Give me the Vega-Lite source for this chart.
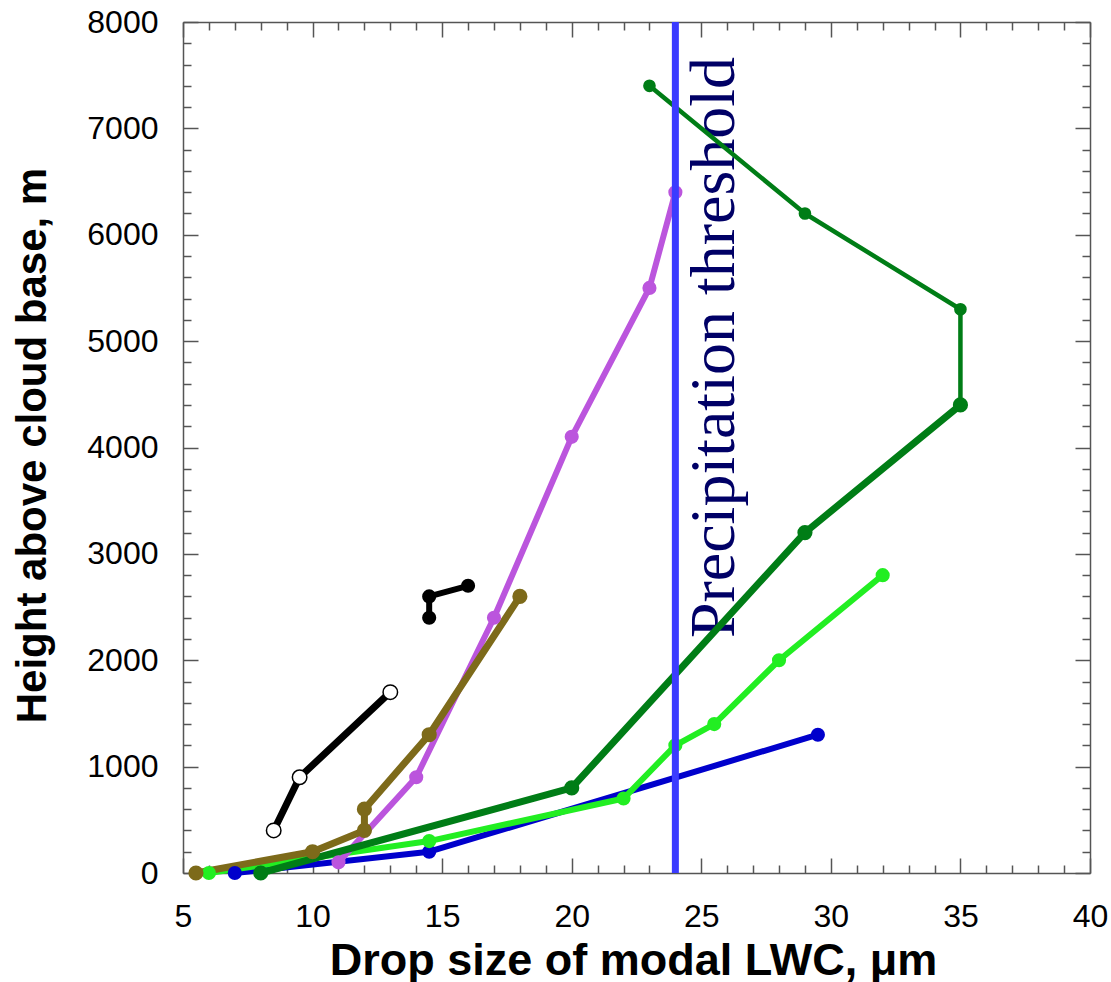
{
  "$schema": "https://vega.github.io/schema/vega-lite/v6.json",
  "width": 907,
  "height": 851,
  "autosize": {"type": "none"},
  "padding": {"left": 183, "top": 22, "right": 21, "bottom": 109},
  "background": "white",
  "config": {
    "view": {"stroke": null},
    "axis": {
      "grid": false,
      "domainColor": "#555555",
      "domainWidth": 1.5,
      "tickColor": "#555555",
      "tickWidth": 1.5,
      "labelFont": "Liberation Sans",
      "labelFontSize": 31,
      "labelColor": "black",
      "labelFlush": false,
      "labelOverlap": false,
      "labelBound": false,
      "titleFont": "Liberation Sans",
      "titleFontWeight": "bold",
      "titleFontSize": 42,
      "titleColor": "black"
    },
    "line": {"strokeCap": "round", "strokeJoin": "round"},
    "circle": {"opacity": 1}
  },
  "datasets": {
    "profiles": [
      {"series": "blue", "k": 0, "size_um": 7, "height_m": 0},
      {"series": "blue", "k": 1, "size_um": 14.5, "height_m": 200},
      {"series": "blue", "k": 2, "size_um": 29.5, "height_m": 1300},
      {"series": "lime", "k": 0, "size_um": 6, "height_m": 0},
      {"series": "lime", "k": 1, "size_um": 14.5, "height_m": 300},
      {"series": "lime", "k": 2, "size_um": 22, "height_m": 700},
      {"series": "lime", "k": 3, "size_um": 24, "height_m": 1200},
      {"series": "lime", "k": 4, "size_um": 25.5, "height_m": 1400},
      {"series": "lime", "k": 5, "size_um": 28, "height_m": 2000},
      {"series": "lime", "k": 6, "size_um": 32, "height_m": 2800},
      {"series": "green_lo", "k": 0, "size_um": 8, "height_m": 0},
      {"series": "green_lo", "k": 1, "size_um": 20, "height_m": 800},
      {"series": "green_lo", "k": 2, "size_um": 29, "height_m": 3200},
      {"series": "green_lo", "k": 3, "size_um": 35, "height_m": 4400},
      {"series": "green_hi", "k": 0, "size_um": 35, "height_m": 4400},
      {"series": "green_hi", "k": 1, "size_um": 35, "height_m": 5300},
      {"series": "green_hi", "k": 2, "size_um": 29, "height_m": 6200},
      {"series": "green_hi", "k": 3, "size_um": 23, "height_m": 7400},
      {"series": "purple", "k": 0, "size_um": 11, "height_m": 100},
      {"series": "purple", "k": 1, "size_um": 14, "height_m": 900},
      {"series": "purple", "k": 2, "size_um": 17, "height_m": 2400},
      {"series": "purple", "k": 3, "size_um": 20, "height_m": 4100},
      {"series": "purple", "k": 4, "size_um": 23, "height_m": 5500},
      {"series": "purple", "k": 5, "size_um": 24, "height_m": 6400},
      {"series": "brown", "k": 0, "size_um": 5.5, "height_m": 0},
      {"series": "brown", "k": 1, "size_um": 10, "height_m": 200},
      {"series": "brown", "k": 2, "size_um": 12, "height_m": 400},
      {"series": "brown", "k": 3, "size_um": 12, "height_m": 600},
      {"series": "brown", "k": 4, "size_um": 14.5, "height_m": 1300},
      {"series": "brown", "k": 5, "size_um": 18, "height_m": 2600},
      {"series": "black_open", "k": 0, "size_um": 8.5, "height_m": 400},
      {"series": "black_open", "k": 1, "size_um": 9.5, "height_m": 900},
      {"series": "black_open", "k": 2, "size_um": 13, "height_m": 1700},
      {"series": "black_filled", "k": 0, "size_um": 14.5, "height_m": 2400},
      {"series": "black_filled", "k": 1, "size_um": 14.5, "height_m": 2600},
      {"series": "black_filled", "k": 2, "size_um": 16, "height_m": 2700}
    ],
    "threshold": [{"size_um": 24}],
    "note": [{"size_um": 26.27, "height_m": 4940, "label": "Precipitation threshold"}]
  },
  "resolve": {"axis": {"x": "independent", "y": "independent"}},
  "layer": [
    {
      "data": {"name": "note"},
      "mark": {"type": "text", "font": "Liberation Serif", "fontSize": 64, "angle": 270, "align": "center", "baseline": "alphabetic", "color": "#000066"},
      "encoding": {
        "x": {"field": "size_um", "type": "quantitative", "scale": {"domain": [5, 40], "nice": false, "zero": false},
          "axis": {"orient": "top", "title": null, "labels": false,
            "values": [5,6,7,8,9,10,11,12,13,14,15,16,17,18,19,20,21,22,23,24,25,26,27,28,29,30,31,32,33,34,35,36,37,38,39,40],
            "tickSize": {"condition": {"test": "datum.value % 5 === 0", "value": -15}, "value": -8}}},
        "y": {"field": "height_m", "type": "quantitative", "scale": {"domain": [0, 8000], "nice": false, "zero": false},
          "axis": {"orient": "right", "title": null, "labels": false,
            "values": [0,200,400,600,800,1000,1200,1400,1600,1800,2000,2200,2400,2600,2800,3000,3200,3400,3600,3800,4000,4200,4400,4600,4800,5000,5200,5400,5600,5800,6000,6200,6400,6600,6800,7000,7200,7400,7600,7800,8000],
            "tickSize": {"condition": {"test": "datum.value % 1000 === 0", "value": -15}, "value": -8}}},
        "text": {"field": "label"}
      }
    },
    {
      "data": {"name": "profiles"},
      "transform": [{"filter": {"field": "series", "oneOf": ["blue", "lime", "purple", "black_filled"]}}],
      "mark": {"type": "line", "strokeWidth": 6},
      "encoding": {
        "x": {"field": "size_um", "type": "quantitative", "scale": {"domain": [5, 40], "nice": false, "zero": false},
          "axis": {"orient": "bottom", "title": "Drop size of modal LWC, μm",
            "values": [5,6,7,8,9,10,11,12,13,14,15,16,17,18,19,20,21,22,23,24,25,26,27,28,29,30,31,32,33,34,35,36,37,38,39,40],
            "labelExpr": "datum.value % 5 === 0 ? datum.label : ''",
            "labelPadding": 43,
            "labelFontSize": 32,
            "tickSize": {"condition": {"test": "datum.value % 5 === 0", "value": -15}, "value": -8},
            "titleFontSize": 45,
            "titleX": 450, "titleY": 101, "titleBaseline": "alphabetic", "titleAlign": "center"}},
        "y": {"field": "height_m", "type": "quantitative", "scale": {"domain": [0, 8000], "nice": false, "zero": false},
          "axis": {"orient": "left", "title": "Height above cloud base, m", "format": "d",
            "values": [0,200,400,600,800,1000,1200,1400,1600,1800,2000,2200,2400,2600,2800,3000,3200,3400,3600,3800,4000,4200,4400,4600,4800,5000,5200,5400,5600,5800,6000,6200,6400,6600,6800,7000,7200,7400,7600,7800,8000],
            "labelExpr": "datum.value % 1000 === 0 ? datum.label : ''",
            "labelPadding": 40,
            "labelFontSize": 32,
            "tickSize": {"condition": {"test": "datum.value % 1000 === 0", "value": -15}, "value": -8},
            "titleX": -138, "titleY": 423, "titleBaseline": "alphabetic", "titleAlign": "center", "titleAngle": 270}},
        "color": {"field": "series", "type": "nominal", "legend": null,
          "scale": {"domain": ["blue", "lime", "green_lo", "green_hi", "purple", "brown", "black_open", "black_filled"],
            "range": ["#0000cc", "#22ee22", "#007d16", "#007d16", "#bb55dd", "#7d6a1a", "#000000", "#000000"]}},
        "order": {"field": "k", "type": "quantitative"}
      }
    },
    {
      "data": {"name": "profiles"},
      "transform": [{"filter": {"field": "series", "oneOf": ["green_hi"]}}],
      "mark": {"type": "line", "strokeWidth": 4.5},
      "encoding": {
        "x": {"field": "size_um", "type": "quantitative", "scale": {"domain": [5, 40], "nice": false, "zero": false}, "axis": null},
        "y": {"field": "height_m", "type": "quantitative", "scale": {"domain": [0, 8000], "nice": false, "zero": false}, "axis": null},
        "color": {"field": "series", "type": "nominal", "legend": null,
          "scale": {"domain": ["blue", "lime", "green_lo", "green_hi", "purple", "brown", "black_open", "black_filled"],
            "range": ["#0000cc", "#22ee22", "#007d16", "#007d16", "#bb55dd", "#7d6a1a", "#000000", "#000000"]}},
        "order": {"field": "k", "type": "quantitative"}
      }
    },
    {
      "data": {"name": "profiles"},
      "transform": [{"filter": {"field": "series", "oneOf": ["green_lo", "brown", "black_open"]}}],
      "mark": {"type": "line", "strokeWidth": 7},
      "encoding": {
        "x": {"field": "size_um", "type": "quantitative", "scale": {"domain": [5, 40], "nice": false, "zero": false}, "axis": null},
        "y": {"field": "height_m", "type": "quantitative", "scale": {"domain": [0, 8000], "nice": false, "zero": false}, "axis": null},
        "color": {"field": "series", "type": "nominal", "legend": null,
          "scale": {"domain": ["blue", "lime", "green_lo", "green_hi", "purple", "brown", "black_open", "black_filled"],
            "range": ["#0000cc", "#22ee22", "#007d16", "#007d16", "#bb55dd", "#7d6a1a", "#000000", "#000000"]}},
        "order": {"field": "k", "type": "quantitative"}
      }
    },
    {
      "data": {"name": "profiles"},
      "transform": [{"filter": {"field": "series", "oneOf": ["blue", "lime", "purple", "black_filled"]}}],
      "mark": {"type": "circle", "size": 200},
      "encoding": {
        "x": {"field": "size_um", "type": "quantitative", "scale": {"domain": [5, 40], "nice": false, "zero": false}, "axis": null},
        "y": {"field": "height_m", "type": "quantitative", "scale": {"domain": [0, 8000], "nice": false, "zero": false}, "axis": null},
        "color": {"field": "series", "type": "nominal", "legend": null,
          "scale": {"domain": ["blue", "lime", "green_lo", "green_hi", "purple", "brown", "black_open", "black_filled"],
            "range": ["#0000cc", "#22ee22", "#007d16", "#007d16", "#bb55dd", "#7d6a1a", "#000000", "#000000"]}}
      }
    },
    {
      "data": {"name": "profiles"},
      "transform": [{"filter": {"field": "series", "oneOf": ["green_hi"]}}],
      "mark": {"type": "circle", "size": 160},
      "encoding": {
        "x": {"field": "size_um", "type": "quantitative", "scale": {"domain": [5, 40], "nice": false, "zero": false}, "axis": null},
        "y": {"field": "height_m", "type": "quantitative", "scale": {"domain": [0, 8000], "nice": false, "zero": false}, "axis": null},
        "color": {"field": "series", "type": "nominal", "legend": null,
          "scale": {"domain": ["blue", "lime", "green_lo", "green_hi", "purple", "brown", "black_open", "black_filled"],
            "range": ["#0000cc", "#22ee22", "#007d16", "#007d16", "#bb55dd", "#7d6a1a", "#000000", "#000000"]}}
      }
    },
    {
      "data": {"name": "profiles"},
      "transform": [{"filter": {"field": "series", "oneOf": ["green_lo", "brown"]}}],
      "mark": {"type": "circle", "size": 230},
      "encoding": {
        "x": {"field": "size_um", "type": "quantitative", "scale": {"domain": [5, 40], "nice": false, "zero": false}, "axis": null},
        "y": {"field": "height_m", "type": "quantitative", "scale": {"domain": [0, 8000], "nice": false, "zero": false}, "axis": null},
        "color": {"field": "series", "type": "nominal", "legend": null,
          "scale": {"domain": ["blue", "lime", "green_lo", "green_hi", "purple", "brown", "black_open", "black_filled"],
            "range": ["#0000cc", "#22ee22", "#007d16", "#007d16", "#bb55dd", "#7d6a1a", "#000000", "#000000"]}}
      }
    },
    {
      "data": {"name": "profiles"},
      "transform": [{"filter": "datum.series === 'black_open'"}],
      "mark": {"type": "point", "shape": "circle", "filled": false, "fill": "white", "fillOpacity": 1, "stroke": "black", "strokeWidth": 1.5, "opacity": 1, "size": 210},
      "encoding": {
        "x": {"field": "size_um", "type": "quantitative", "scale": {"domain": [5, 40], "nice": false, "zero": false}, "axis": null},
        "y": {"field": "height_m", "type": "quantitative", "scale": {"domain": [0, 8000], "nice": false, "zero": false}, "axis": null}
      }
    },
    {
      "data": {"name": "threshold"},
      "mark": {"type": "rule", "color": "#3b3bff", "strokeWidth": 7},
      "encoding": {
        "x": {"field": "size_um", "type": "quantitative", "scale": {"domain": [5, 40], "nice": false, "zero": false}, "axis": null}
      }
    }
  ]
}
